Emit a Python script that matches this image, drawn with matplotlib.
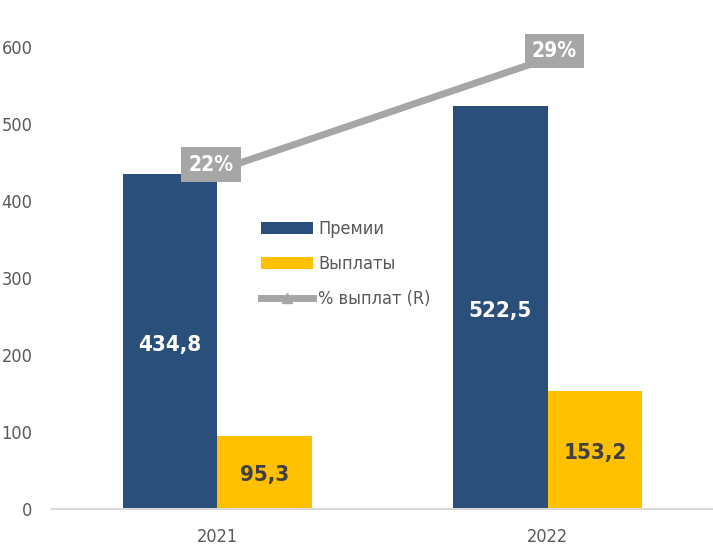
import matplotlib
matplotlib.use("Agg")
import matplotlib.pyplot as plt
import numpy as np
from matplotlib.font_manager import FontProperties

years = ["2021", "2022"]
premii = [434.8, 522.5]
vyplaty = [95.3, 153.2]
pct = [v / p for v, p in zip(vyplaty, premii)]
pct_labels = ["22%", "29%"]

# narrow font, closest to the condensed face of the original
REG = "/usr/share/fonts/truetype/dejavu/DejaVuSansCondensed.ttf"
BOLD = "/usr/share/fonts/truetype/dejavu/DejaVuSansCondensed-Bold.ttf"

def fp(size, bold=False):
    return FontProperties(fname=BOLD if bold else REG, size=size)

BLUE = "#2b4f7b"
GOLD = "#ffc000"
GREY = "#a6a6a6"
TXT = "#595959"

fig = plt.figure(figsize=(7.13, 5.49), dpi=100)
ax = fig.add_axes([0.073, 0.073, 0.927, 0.842])
x = np.arange(len(years))
w = 0.286
b1 = ax.bar(x - w / 2, premii, w, color=BLUE, label="Премии")
b2 = ax.bar(x + w / 2, vyplaty, w, color=GOLD, label="Выплаты")
for r, v in zip(b1, premii):
    ax.text(r.get_x() + r.get_width() / 2, v / 2 - 4, f"{v:.1f}".replace(".", ","),
            ha="center", va="center", color="white", fontproperties=fp(16, True))
for r, v in zip(b2, vyplaty):
    ax.text(r.get_x() + r.get_width() / 2, v / 2 - 4, f"{v:.1f}".replace(".", ","),
            ha="center", va="center", color="#404040", fontproperties=fp(16, True))

ax.set_xlim(-0.5, 1.5)
ax.set_ylim(0, 600)
ax.set_yticks(range(0, 601, 100))
ax.set_xticks(x)
ax.set_xticklabels(years)
for lab in ax.get_xticklabels() + ax.get_yticklabels():
    lab.set_fontproperties(fp(13))
for s in ["top", "right", "left"]:
    ax.spines[s].set_visible(False)
ax.spines["bottom"].set_color("#d9d9d9")
ax.spines["bottom"].set_linewidth(1.5)
ax.tick_params(axis="both", length=0, colors=TXT)
ax.tick_params(axis="y", pad=14)
ax.tick_params(axis="x", pad=14)

ax2 = ax.twinx()
ln, = ax2.plot(x, pct, color=GREY, lw=5, marker="^", markersize=7, label="% выплат (R)")
ax2.set_ylim(-0.004, 0.301)
ax2.axis("off")
for xi, p, t, dx, dy in zip(x, pct, pct_labels, [-0.02, 0.02], [0.004, 0.005]):
    ax2.text(xi + dx, p + dy, t, ha="center", va="center", color="white",
             fontproperties=fp(15, True),
             bbox=dict(boxstyle="square,pad=0.35", fc=GREY, ec="none"))

leg = ax.legend(handles=[b1, b2, ln], loc="upper left", bbox_to_anchor=(0.291, 0.66),
                frameon=False, prop=fp(13), labelcolor=TXT, handlelength=2.9,
                handleheight=0.65, labelspacing=0.95, handletextpad=0.3)

fig.savefig("out.png", dpi=100)
